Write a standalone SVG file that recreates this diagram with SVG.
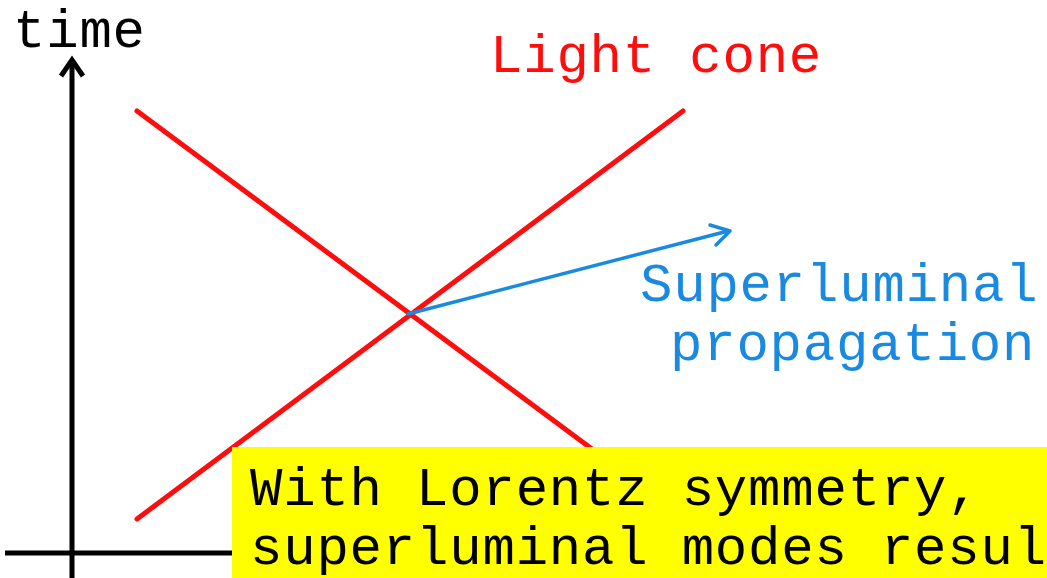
<svg xmlns="http://www.w3.org/2000/svg" width="1047" height="578" viewBox="0 0 1047 578">
<style>
.t{font-family:"Liberation Mono","DejaVu Sans Mono",monospace;font-size:54px;letter-spacing:0.8px}
.red{stroke:#ff0d0d;stroke-width:5;fill:none;stroke-linecap:round}
.axis{stroke:#000;stroke-width:5;fill:none}
.blue{stroke:#1a8ae0;stroke-width:3.5;fill:none;stroke-linecap:round;stroke-linejoin:round}
</style>
<rect width="1047" height="578" fill="#fff"/>
<g id="connectors">
<line class="axis" x1="72" y1="578" x2="72" y2="60"/>
<path d="M61 76 L72 60 L83 76" fill="none" stroke="#000" stroke-width="5" stroke-linejoin="miter"/>
<line class="axis" x1="5" y1="553" x2="240" y2="553"/>
<line class="red" x1="137" y1="111" x2="600" y2="455"/>
<line class="red" x1="137" y1="519" x2="683" y2="111"/>
<line class="blue" x1="408" y1="314" x2="728" y2="231"/>
<path class="blue" d="M710 225 L730 231 L716 245"/>
</g>
<g id="time-label"><text class="t" x="13" y="47" fill="#000">time</text></g>
<g id="light-cone-label"><text class="t" x="490" y="72" fill="#ff0d0d">Light cone</text></g>
<g id="superluminal-label">
<text class="t" x="640" y="301" fill="#1a8ae0">Superluminal</text>
<text class="t" x="670" y="360" fill="#1a8ae0">propagation</text>
</g>
<g id="note">
<rect x="232" y="447" width="830" height="140" fill="#ffff00"/>
<text class="t" x="250" y="505" fill="#000">With Lorentz symmetry,</text>
<text class="t" x="250" y="564" fill="#000">superluminal modes resul</text>
</g>
</svg>
